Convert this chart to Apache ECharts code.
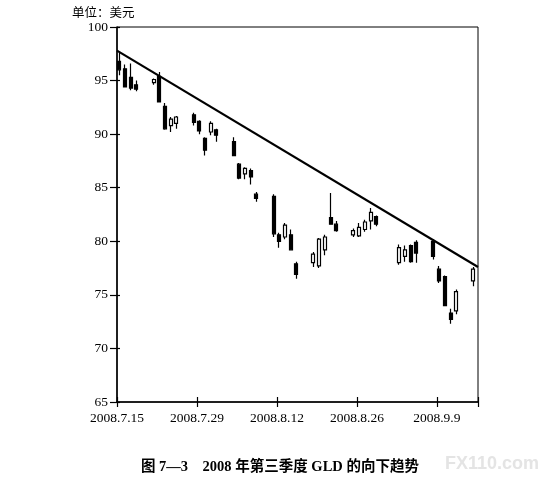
<!DOCTYPE html>
<html>
<head>
<meta charset="utf-8">
<script src="https://cdn.jsdelivr.net/npm/echarts@6/dist/echarts.min.js"></script>
<style>
html,body{margin:0;padding:0;background:#fff;}
#c{width:543px;height:484px;}
</style>
</head>
<body>
<div id="c"></div>
<script>
// ---- data ----
const startDate = '2008-07-15';
const dates = ['2008-07-15','2008-07-16','2008-07-17','2008-07-18','2008-07-21','2008-07-22','2008-07-23','2008-07-24','2008-07-25',
  '2008-07-28','2008-07-29','2008-07-30','2008-07-31','2008-08-01','2008-08-04','2008-08-05','2008-08-06','2008-08-07','2008-08-08',
  '2008-08-11','2008-08-12','2008-08-13','2008-08-14','2008-08-15','2008-08-18','2008-08-19','2008-08-20','2008-08-21','2008-08-22',
  '2008-08-25','2008-08-26','2008-08-27','2008-08-28','2008-08-29','2008-09-02','2008-09-03','2008-09-04','2008-09-05',
  '2008-09-08','2008-09-09','2008-09-10','2008-09-11','2008-09-12','2008-09-15'];
const opens  = [96.8,96.1,95.3,94.6,94.8,95.4,92.6,90.8,91.0, 91.8,91.2,89.6,90.2,90.4, 89.3,87.2,86.3,86.6,84.4, 84.2,80.6,80.4,80.6,77.9, 78.0,77.7,79.2,82.2,81.6, 80.6,80.5,81.1,81.9,82.3, 78.0,78.6,79.6,79.9, 80.0,77.4,76.7,73.3,73.5,76.3];
const closes = [96.0,94.4,94.3,94.2,95.1,93.0,90.5,91.4,91.6, 91.1,90.3,88.5,91.0,89.9, 88.0,85.9,86.8,86.0,84.0, 80.7,80.0,81.5,79.2,76.9, 78.8,80.2,80.4,81.6,81.0, 81.0,81.3,81.8,82.7,81.6, 79.4,79.2,78.1,78.9, 78.6,76.3,74.0,72.7,75.3,77.4];
const lows   = [95.5,94.4,94.1,94.0,94.6,93.0,90.4,90.2,90.5, 90.8,90.0,88.0,89.9,89.3, 88.0,85.8,85.8,85.3,83.7, 80.4,79.4,80.2,79.2,76.5, 77.6,77.5,78.7,81.6,80.9, 80.4,80.4,80.9,81.1,81.4, 77.8,78.1,78.0,78.0, 78.3,76.1,74.0,72.3,73.2,75.8];
const highs  = [97.6,96.5,96.6,95.0,95.2,95.8,92.9,91.6,91.7, 92.0,91.3,89.7,91.2,90.5, 89.7,87.3,86.9,86.8,84.6, 84.4,80.8,81.7,81.1,78.1, 79.0,80.3,80.6,84.5,81.9, 81.2,81.7,82.0,83.1,82.4, 79.7,79.6,79.7,80.1, 80.2,77.7,76.8,73.7,75.5,77.6];
const trendValues = [97.8, 77.6];           // trend line at left and right edge
const tickLabels = ['2008.7.15','2008.7.29','2008.8.12','2008.8.26','2008.9.9'];
const yTicks = [65,70,75,80,85,90,95,100];

// ---- build ----
const DAY = 86400000;
const t0 = Date.parse(startDate);
const dayOf = d => Math.round((Date.parse(d) - t0) / DAY);
const xMax = 63.2;        // axis end (days after 7.15)
const midDay = 0.4;       // candle drawn in the middle of its day slot
const candleData = dates.map((d,i) => [dayOf(d) + midDay, opens[i], closes[i], lows[i], highs[i]]);
const trendData = [[0, trendValues[0]], [xMax, trendValues[1]]];

const font = '"Liberation Serif", "Noto Sans CJK SC", serif';
const chart = echarts.init(document.getElementById('c'), null, {renderer:'canvas'});
const gridPos = {left:117, right:65, top:27, bottom:82};
chart.setOption({
  animation:false,
  backgroundColor:'#fff',
  title:[{
    text:'单位：美元', left:67, top:1,
    textStyle:{fontFamily:'"Noto Sans CJK SC", sans-serif', fontSize:12.5, fontWeight:'normal', color:'#000'}
  },{
    text:'图 7—3　2008 年第三季度 GLD 的向下趋势', left:136, top:455,
    textStyle:{fontFamily:font, fontSize:14.5, fontWeight:'bold', color:'#000'}
  }],
  graphic:[{type:'text', right:4, top:455, style:{text:'FX110.com', fill:'#e4e4e4', font:'bold 18px "Liberation Sans", sans-serif'}}],
  grid:[Object.assign({show:true, borderColor:'#000', borderWidth:1, backgroundColor:'transparent'}, gridPos)],
  xAxis:[{
    type:'value', min:0, max:xMax, interval:14,
    axisLine:{show:true, lineStyle:{color:'#000', width:1.5}},
    axisTick:{show:true, inside:false, length:5, lineStyle:{color:'#000', width:1.2}},
    axisLabel:{margin:10, fontFamily:font, fontSize:13.5, color:'#000',
      formatter:v => tickLabels[Math.round(v/14)] || ''},
    splitLine:{show:false}
  },{
    type:'value', min:0, max:xMax, interval:14, position:'bottom',
    axisLine:{show:false}, axisTick:{show:true, inside:true, length:5, lineStyle:{color:'#000', width:1.2}},
    axisLabel:{show:false}, splitLine:{show:false}
  }],
  yAxis:[{
    type:'value', min:65, max:100, interval:5,
    axisLine:{show:true, lineStyle:{color:'#000', width:1.5}},
    axisTick:{show:true, inside:false, length:7, lineStyle:{color:'#000', width:1.2}},
    axisLabel:{margin:9, fontFamily:font, fontSize:13.5, color:'#000',
      formatter:v => yTicks.includes(v) ? String(v) : ''},
    splitLine:{show:false}
  },{
    type:'value', min:65, max:100, interval:5, position:'left',
    axisLine:{show:false}, axisTick:{show:true, inside:true, length:3, lineStyle:{color:'#000', width:1.2}},
    axisLabel:{show:false}, splitLine:{show:false}
  }],
  series:[{
    type:'candlestick',
    xAxisIndex:0, yAxisIndex:0,
    barWidth:3.5,
    data:candleData,
    itemStyle:{color:'#fff', color0:'#000', borderColor:'#000', borderColor0:'#000', borderColorDoji:'#000', borderWidth:1.2}
  },{
    type:'line',
    xAxisIndex:0, yAxisIndex:0,
    data:trendData, symbol:'none',
    lineStyle:{color:'#000', width:2.2}
  }]
});
</script>
</body>
</html>
